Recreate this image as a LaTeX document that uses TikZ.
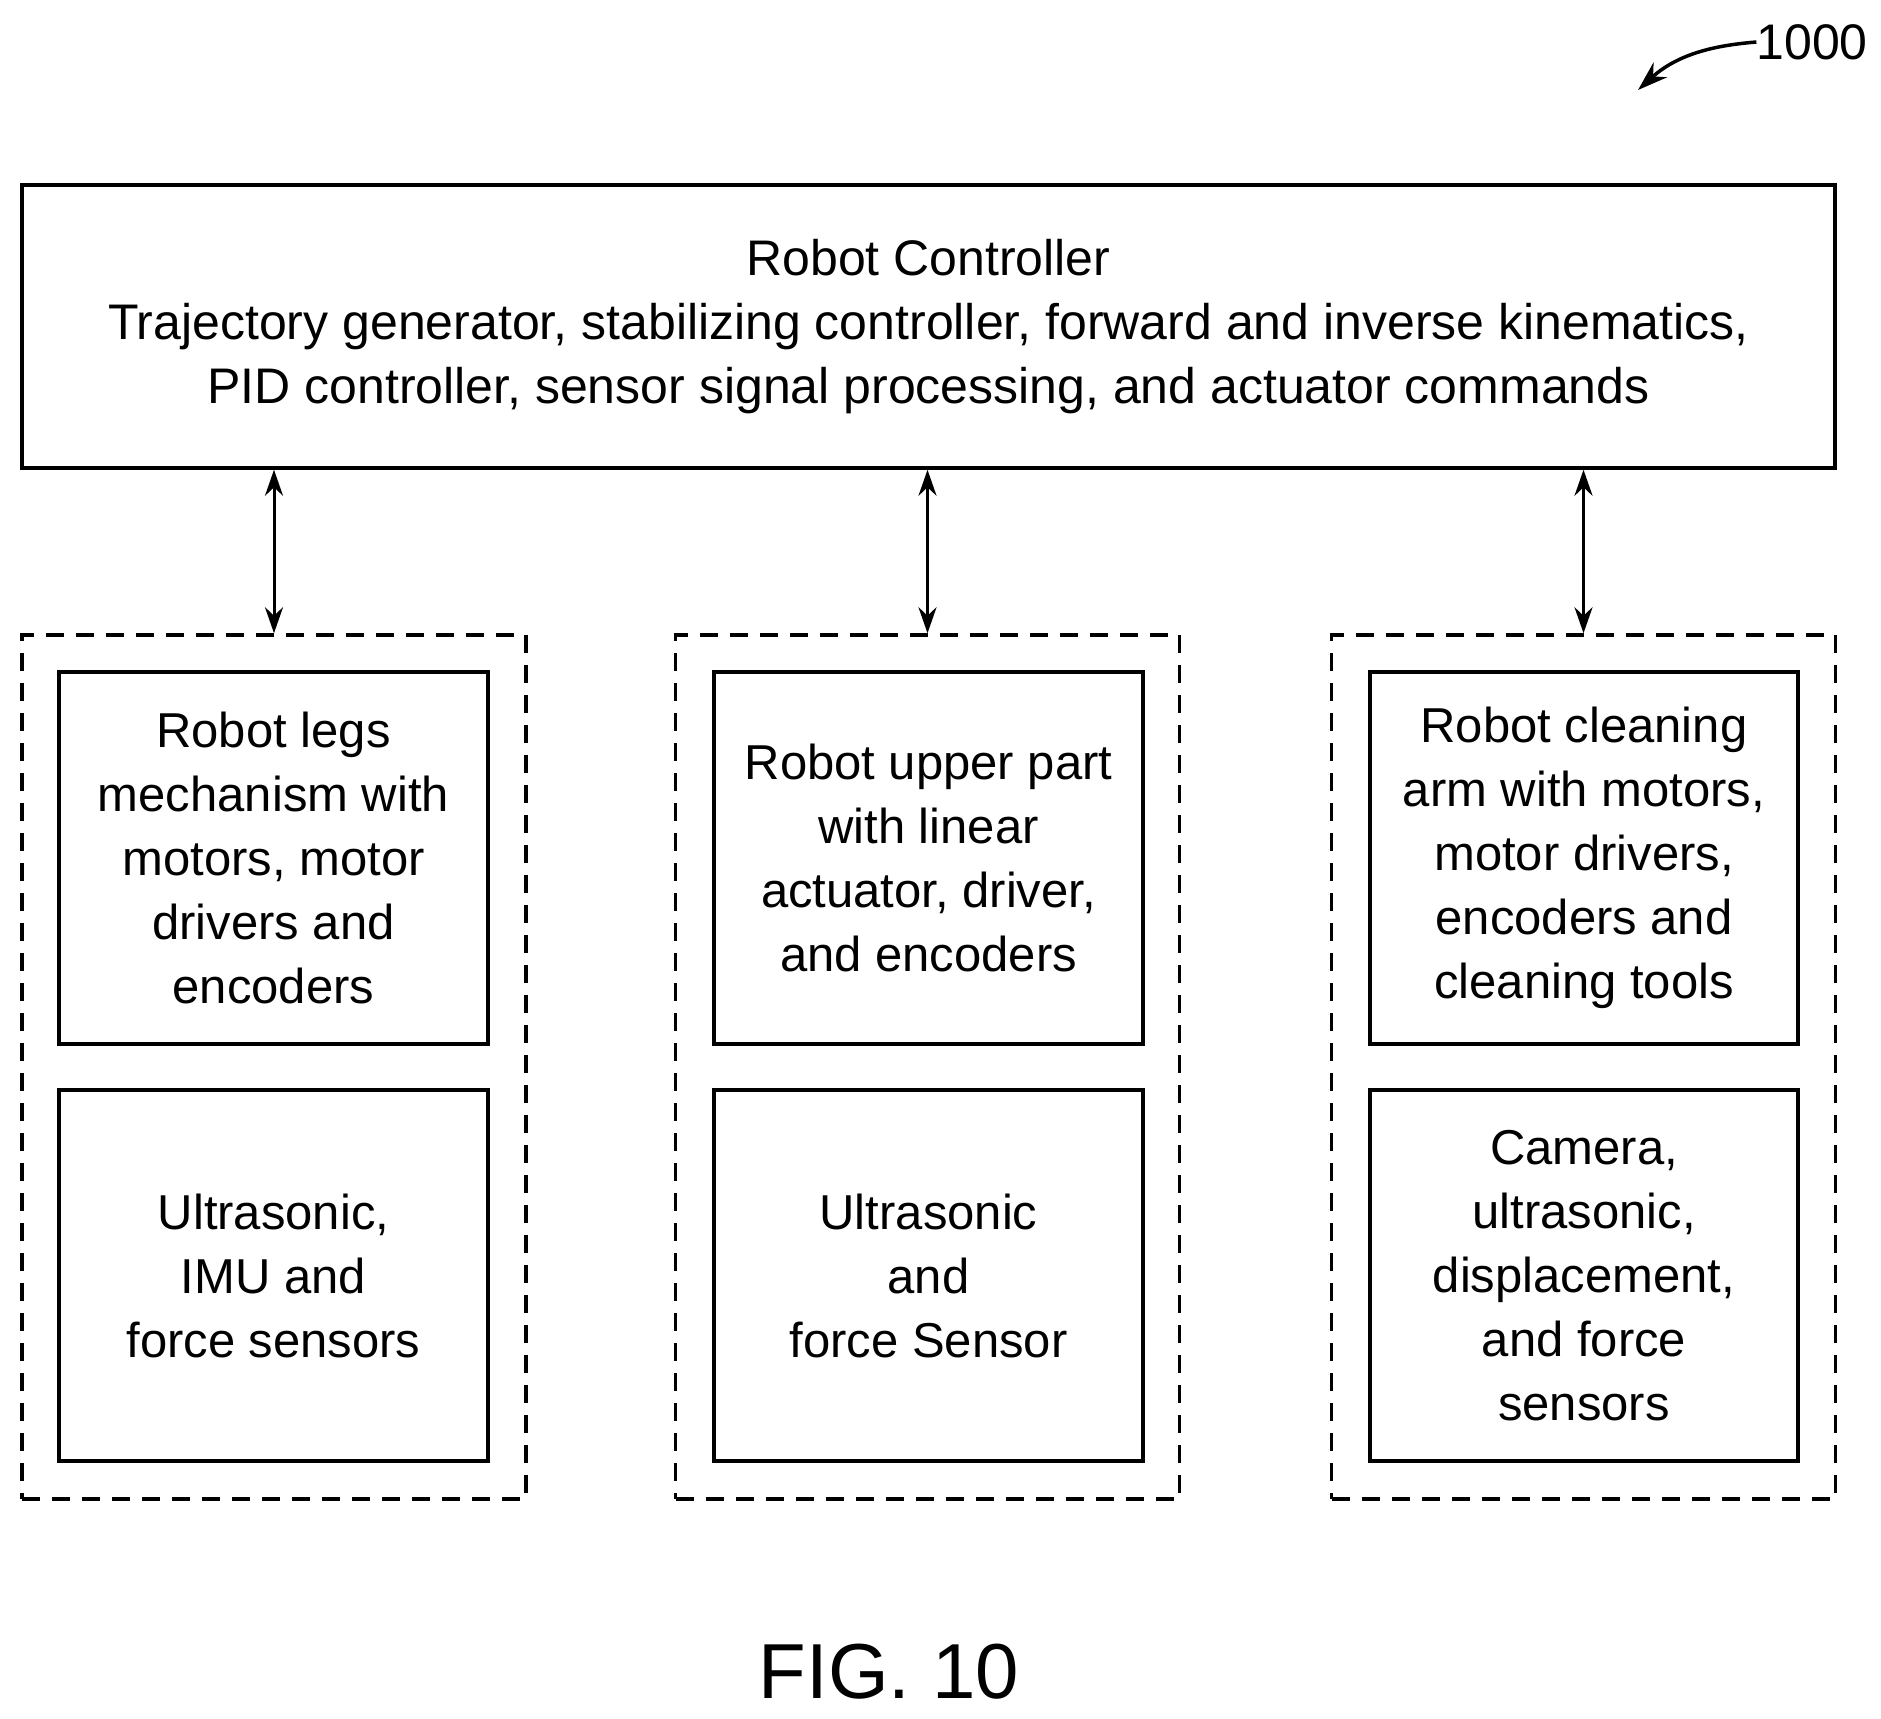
\documentclass[tikz,border=0pt]{standalone}
\usepackage{fontspec}
\setmainfont{Liberation Sans}
\usetikzlibrary{arrows.meta}
\begin{document}
\begin{tikzpicture}[x=1pt,y=-1pt,
  box/.style={draw,line width=3.5pt,inner sep=0pt,align=center,font=\fontsize{49}{64}\selectfont},
  grp/.style={draw,line width=3.5pt,dash pattern=on 18pt off 12pt},
  arr/.style={line width=3pt,<->,>={Stealth[length=26pt,width=18pt]}}]
\useasboundingbox (0,0) rectangle (1881,1718);
\node[box,minimum width=1813pt,minimum height=283pt,font=\fontsize{50}{64}\selectfont] (ctrl) at (928.5,326.5)
 {Robot Controller\\Trajectory generator, stabilizing controller, forward and inverse kinematics,\\PID controller, sensor signal processing, and actuator commands};
\foreach \n/\cx in {g1/274, g2/927.5, g3/1583.5}{
  \node[grp,minimum width=504pt,minimum height=864pt] (\n) at (\cx,1067) {};
}
\node[box,minimum width=429pt,minimum height=372pt] (a1) at (273.5,858) {Robot legs\\mechanism with\\motors, motor\\drivers and\\encoders};
\node[box,minimum width=429pt,minimum height=371pt] (b1) at (273.5,1275.5) {Ultrasonic,\\IMU and\\force sensors};
\node[box,minimum width=429pt,minimum height=372pt] (a2) at (928.5,858) {Robot upper part\\with linear\\actuator, driver,\\and encoders};
\node[box,minimum width=429pt,minimum height=371pt] (b2) at (928.5,1275.5) {Ultrasonic\\and\\force Sensor};
\node[box,minimum width=428pt,minimum height=372pt] (a3) at (1584,858) {Robot cleaning\\arm with motors,\\motor drivers,\\encoders and\\cleaning tools};
\node[box,minimum width=428pt,minimum height=371pt] (b3) at (1584,1275.5) {Camera,\\ultrasonic,\\displacement,\\and force\\sensors};
\draw[arr] (ctrl.south -| g1.north) -- (g1.north);
\draw[arr] (ctrl.south -| g2.north) -- (g2.north);
\draw[arr] (ctrl.south -| g3.north) -- (g3.north);
\node[font=\fontsize{78}{78}\selectfont,inner sep=0pt] (fig) at (889,1672) {FIG. 10};
\node[font=\fontsize{50}{50}\selectfont,anchor=east,inner sep=0pt] (lbl) at (1868,42) {1000};
\coordinate (tip) at (1638,90);
\draw[line width=3.5pt,-{Stealth[length=30pt,width=20pt]}] (lbl.west) .. controls (1720,45) and (1680,52) .. (tip);
\end{tikzpicture}
\end{document}
